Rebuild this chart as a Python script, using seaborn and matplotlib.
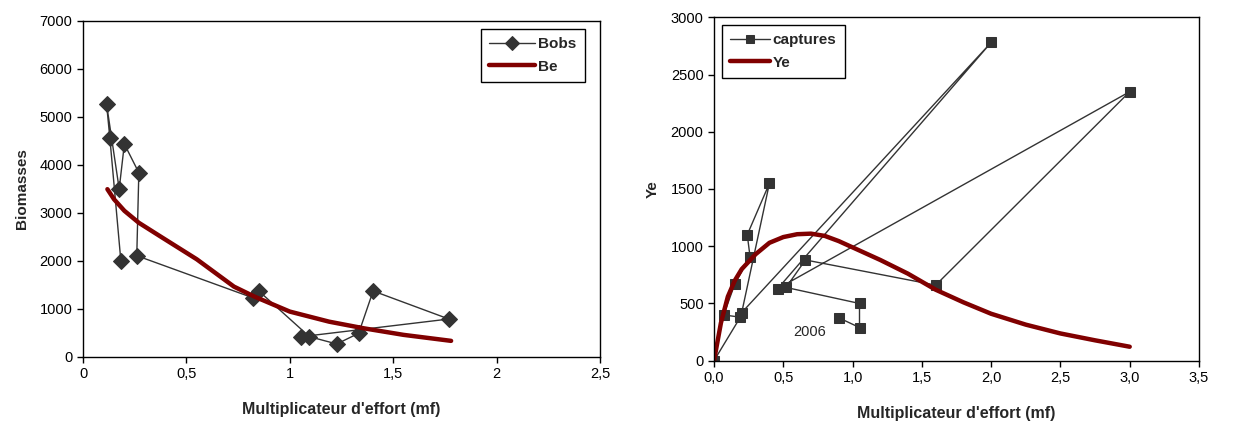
import numpy as np
import matplotlib
matplotlib.use("Agg")
import matplotlib.pyplot as plt
import matplotlib.ticker as mticker
import pandas as pd
import seaborn as sns

# Left panel: observed biomass (path order as drawn) and equilibrium biomass
bobs_mf = [0.183, 0.13, 0.114, 0.175, 0.20, 0.27, 0.26, 0.82, 0.85, 1.095, 1.227, 1.333, 1.403, 1.769, 1.056]
bobs_b = [2000, 4550, 5260, 3494, 4431, 3833, 2104, 1229, 1369, 417, 265, 488, 1369, 785, 417]
be_mf = [0.118, 0.15, 0.20, 0.27, 0.38, 0.55, 0.73, 0.83, 1.0, 1.19, 1.36, 1.55, 1.78]
be_b = [3490, 3280, 3040, 2790, 2490, 2030, 1460, 1250, 940, 730, 590, 455, 330]

# Right panel: observed catches (path order as drawn) and equilibrium yield
cap_mf = [0.0, 0.19, 0.07, 0.15, 0.26, 0.24, 0.40, 0.20, 2.0, 0.46, 3.0, 1.6, 0.66, 0.52, 1.05, 1.05, 0.90]
cap_y = [0, 380, 400, 670, 910, 1100, 1550, 420, 2780, 630, 2350, 660, 880, 640, 500, 290, 375]
ye_mf = [0, 0.05, 0.1, 0.15, 0.2, 0.3, 0.4, 0.5, 0.6, 0.7, 0.8, 0.9, 1.0, 1.2, 1.4, 1.6, 1.8, 2.0, 2.25, 2.5, 2.75, 3.0]
ye_y = [0, 330, 560, 700, 800, 930, 1030, 1080, 1105, 1110, 1090, 1045, 990, 880, 760, 620, 510, 410, 315, 238, 178, 122]

sns.set_style("white")
plt.rcParams["font.family"] = ["Liberation Sans", "DejaVu Sans"]

obs_col = "#333333"
eq_col = "#800000"

fig = plt.figure(figsize=(12.39, 4.21), dpi=100)
ax1 = fig.add_axes([83 / 1239, 1 - 356.7 / 421, (600 - 83) / 1239, (356.7 - 20.7) / 421])
ax2 = fig.add_axes([714 / 1239, 1 - 360.7 / 421, (1199 - 714) / 1239, (360.7 - 17.3) / 421])

left_obs = pd.DataFrame({"mf": bobs_mf, "B": bobs_b})
left_eq = pd.DataFrame({"mf": be_mf, "B": be_b})
sns.lineplot(data=left_obs, x="mf", y="B", sort=False, estimator=None, ax=ax1,
             color=obs_col, lw=1, marker="D", markersize=8.5, markeredgecolor=obs_col,
             label="Bobs")
sns.lineplot(data=left_eq, x="mf", y="B", sort=False, estimator=None, ax=ax1,
             color=eq_col, lw=3.2, label="Be")

right_obs = pd.DataFrame({"mf": cap_mf, "Y": cap_y})
right_eq = pd.DataFrame({"mf": ye_mf, "Y": ye_y})
sns.lineplot(data=right_obs, x="mf", y="Y", sort=False, estimator=None, ax=ax2,
             color=obs_col, lw=1, marker="s", markersize=7.5, markeredgecolor=obs_col,
             label="captures")
sns.lineplot(data=right_eq, x="mf", y="Y", sort=False, estimator=None, ax=ax2,
             color=eq_col, lw=3.2, label="Ye")
ax2.text(0.69, 253, "2006", fontsize=10.5, ha="center", va="center")

comma = mticker.FuncFormatter(lambda v, p: f"{v:g}".replace(".", ","))
comma1 = mticker.FuncFormatter(lambda v, p: f"{v:.1f}".replace(".", ","))

ax1.set_xlim(0, 2.5)
ax1.set_ylim(0, 7000)
ax1.set_xticks(np.arange(0, 2.51, 0.5))
ax1.set_yticks(np.arange(0, 7001, 1000))
ax1.xaxis.set_major_formatter(comma)
ax1.set_ylabel("Biomasses", fontsize=11, fontweight="bold", labelpad=8)

ax2.set_xlim(0, 3.5)
ax2.set_ylim(0, 3000)
ax2.set_xticks(np.arange(0, 3.51, 0.5))
ax2.set_yticks(np.arange(0, 3001, 500))
ax2.xaxis.set_major_formatter(comma1)
ax2.set_ylabel("Ye", fontsize=11, fontweight="bold", labelpad=8)

for ax in (ax1, ax2):
    ax.set_xlabel("Multiplicateur d'effort (mf)", fontsize=11.5, fontweight="bold", labelpad=15)
    ax.tick_params(axis="both", direction="out", length=4, width=1, labelsize=10.5,
                   bottom=True, left=True, colors="black")
    for s in ax.spines.values():
        s.set_color("black")
        s.set_linewidth(1)

leg1 = ax1.legend(loc="upper right", bbox_to_anchor=(0.985, 0.998),
                  prop={"weight": "bold", "size": 11}, frameon=True, fancybox=False,
                  edgecolor="black", handlelength=3.0, handletextpad=0.2, borderpad=0.55,
                  labelspacing=0.55)
leg2 = ax2.legend(loc="upper left", bbox_to_anchor=(0.0, 1.0),
                  prop={"weight": "bold", "size": 11}, frameon=True, fancybox=False,
                  edgecolor="black", handlelength=2.6, handletextpad=0.2, borderpad=0.55,
                  labelspacing=0.55)
for leg in (leg1, leg2):
    leg.get_frame().set_linewidth(1)
    leg.get_frame().set_alpha(1)
leg1.legend_handles[0].set_markersize(7)
leg2.legend_handles[0].set_markersize(6)

fig.savefig("out.png", dpi=100)
